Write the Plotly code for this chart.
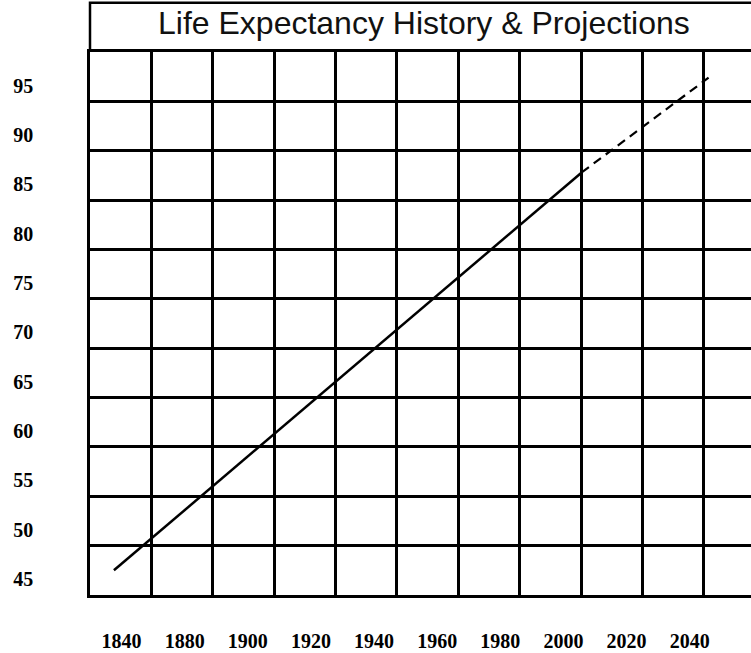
import plotly.graph_objects as go

# ---- data ----
year_labels = ["1840", "1880", "1900", "1920", "1940", "1960", "1980", "2000", "2020", "2040"]
age_labels = [45, 50, 55, 60, 65, 70, 75, 80, 85, 90, 95]
history_x = [-0.12, 7.29]          # position along the year-label index
history_y = [45.9, 86.2]           # life expectancy
projection_x = [7.29, 9.30]
projection_y = [86.2, 95.8]
chart_title = "Life Expectancy History & Projections"

fig = go.Figure()
fig.add_trace(go.Scatter(x=history_x, y=history_y, mode="lines",
                         line=dict(color="black", width=2.5), hoverinfo="skip"))
fig.add_trace(go.Scatter(x=projection_x, y=projection_y, mode="lines",
                         line=dict(color="black", width=2.2, dash="9px,6px"), hoverinfo="skip"))

tickfont = dict(family="Liberation Serif", size=20, color="black", weight="bold")

fig.update_layout(width=751, height=653, margin=dict(l=90, r=0, t=52, b=58, autoexpand=False),
                  plot_bgcolor="white", paper_bgcolor="white", showlegend=False)

fig.update_xaxes(range=[-0.499, 9.972], tickmode="array", automargin=False,
                 tickvals=list(range(len(year_labels))), ticktext=year_labels,
                 showgrid=False, zeroline=False, showline=True, linecolor="black",
                 linewidth=2.5, mirror=True, ticks="", tickfont=tickfont,
                 ticklabelstandoff=26,
                 minor=dict(tickmode="linear", tick0=-0.499, dtick=0.9726, showgrid=True,
                            gridcolor="black", gridwidth=2.5, ticks=""))

fig.update_yaxes(range=[43.4, 98.4], tickmode="array", tickvals=age_labels, automargin=False,
                 ticktext=[str(a) for a in age_labels],
                 showgrid=False, zeroline=False, showline=True, linecolor="black",
                 linewidth=2.5, mirror=False, ticks="", tickfont=tickfont,
                 ticklabelstandoff=50,
                 minor=dict(tickmode="linear", tick0=43.4, dtick=5, showgrid=True,
                            gridcolor="black", gridwidth=2.5, ticks=""))

# title box above the grid
fig.add_shape(type="path", xref="paper", yref="paper",
              path="M 0 1 L 0 1.0908 L 1.05 1.0908",
              line=dict(color="black", width=2.5))

fig.add_annotation(text=chart_title, xref="paper", yref="paper", x=0.506, y=1.0534,
                   xanchor="center", yanchor="middle", showarrow=False,
                   font=dict(family="Liberation Sans", size=32, color="#111111"))

fig.write_html("out.html", config={"displayModeBar": False},
               post_script="document.body.style.margin='0';")
